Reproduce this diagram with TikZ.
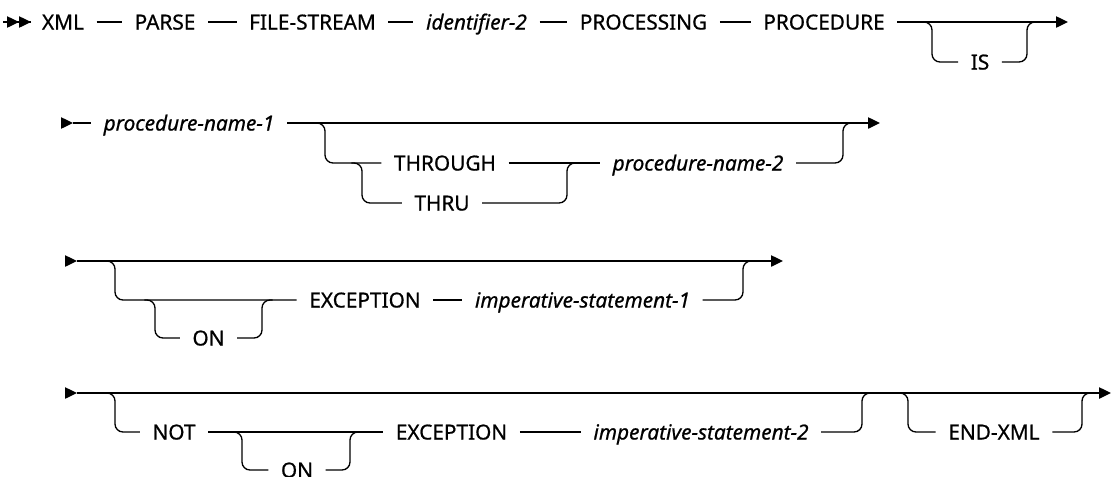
\documentclass[tikz,border=0pt]{standalone}
\usepackage{fontspec}
\setmainfont{Noto Sans}
\newfontfamily\railfont{Noto Sans}[FakeBold=0.7]
\usetikzlibrary{arrows.meta}
\begin{document}
\begin{tikzpicture}[x=0.75pt,y=-0.75pt,line width=1pt,
  kw/.style={inner xsep=9pt,inner ysep=0pt,text height=11.3pt,text depth=0pt,font=\railfont\fontsize{15.6pt}{19pt}\selectfont},
  var/.style={kw,font=\railfont\fontsize{15.6pt}{19pt}\selectfont\itshape},
  rl/.style={rounded corners=6pt},
  endtip/.style={-{Triangle[length=9pt,width=8.5pt]}},
  dbltip/.style={-{Triangle[length=9pt,width=8.5pt]Triangle[length=9pt,width=8.5pt]}}
]
\useasboundingbox (0,0) rectangle (1112,476);

% ---------- Row 1
\coordinate (s1) at (3,22);
\coordinate (s1b) at (31,22);
\node[kw] (xml) at (63,22) {XML};
\node[kw] (parse) at (165,22) {PARSE};
\node[kw] (fs) at (312.5,22) {FILE-STREAM};
\node[var] (id2) at (476.5,22) {identifier-2};
\node[kw] (proc) at (643.5,22) {PROCESSING};
\node[kw] (procd) at (824,22) {PROCEDURE};
\node[kw] (is) at (980,62) {IS};
\coordinate (e1) at (1068,22);
\coordinate (b1l) at (932,22);
\coordinate (b1r) at (1027,22);
\draw[dbltip] (s1) -- (s1b);
\draw (s1b) -- (xml);
\draw (xml) -- (parse);
\draw (parse) -- (fs);
\draw (fs) -- (id2);
\draw (id2) -- (proc);
\draw (proc) -- (procd);
\draw[endtip] (procd) -- (e1);
\draw[rl] ([xshift=-8pt]b1l) -- (b1l) |- (is.west);
\draw[rl] (is.east) -| (b1r) -- ([xshift=8pt]b1r);

% ---------- Row 2
\coordinate (s2) at (61,123);
\coordinate (s2b) at (73,123);
\node[var] (pn1) at (189,123) {procedure-name-1};
\coordinate (e2) at (880,123);
\coordinate (b2l) at (325,123);
\coordinate (b2r) at (843,123);
\coordinate (j2) at (362,163);
\coordinate (j3) at (567,163);
\node[kw] (thr) at (445,163) {THROUGH};
\node[kw] (thru) at (442,203) {THRU};
\node[var] (pn2) at (698,163) {procedure-name-2};
\draw[endtip] (s2) -- (s2b);
\draw (s2b) -- (pn1);
\draw[endtip] (pn1) -- (e2);
\draw[rl] ([xshift=-8pt]b2l) -- (b2l) |- (thr.west);
\draw[rl] ([xshift=-8pt]j2) -- (j2) |- (thru.west);
\draw[rl] (thru.east) -| (j3) -- ([xshift=8pt]j3);
\draw (thr) -- (pn2);
\draw[rl] (pn2.east) -| (b2r) -- ([xshift=8pt]b2r);

% ---------- Row 3
\coordinate (s3) at (65,261);
\coordinate (s3b) at (77,261);
\coordinate (e3) at (783,261);
\coordinate (b3l) at (115,261);
\coordinate (b3r) at (743,261);
\coordinate (o3l) at (155,300);
\coordinate (o3r) at (262,300);
\node[kw] (on1) at (208.5,338) {ON};
\node[kw] (exc1) at (365,300) {EXCEPTION};
\node[var] (is1) at (582.5,300) {imperative-statement-1};
\draw[endtip] (s3) -- (s3b);
\draw[endtip] (s3b) -- (e3);
\draw[rl] ([xshift=-8pt]b3l) -- (b3l) |- (exc1.west);
\draw[rl] ([xshift=-8pt]o3l) -- (o3l) |- (on1.west);
\draw[rl] (on1.east) -| (o3r) -- ([xshift=8pt]o3r);
\draw (exc1) -- (is1);
\draw[rl] (is1.east) -| (b3r) -- ([xshift=8pt]b3r);

% ---------- Row 4
\coordinate (s4) at (65,393);
\coordinate (s4b) at (77,393);
\coordinate (e4) at (1111,393);
\coordinate (b4l) at (115,393);
\coordinate (b4r) at (862,393);
\coordinate (o4l) at (242,432);
\coordinate (o4r) at (350,432);
\coordinate (el) at (908,393);
\coordinate (er) at (1082,393);
\node[kw] (not) at (174,432) {NOT};
\node[kw] (on2) at (297,470) {ON};
\node[kw] (exc2) at (451.5,432) {EXCEPTION};
\node[var] (is2) at (701,432) {imperative-statement-2};
\node[kw] (endx) at (994,432) {END-XML};
\draw[endtip] (s4) -- (s4b);
\draw[endtip] (s4b) -- (e4);
\draw[rl] ([xshift=-8pt]b4l) -- (b4l) |- (not.west);
\draw (not) -- (exc2);
\draw[rl] ([xshift=-8pt]o4l) -- (o4l) |- (on2.west);
\draw[rl] (on2.east) -| (o4r) -- ([xshift=8pt]o4r);
\draw (exc2) -- (is2);
\draw[rl] (is2.east) -| (b4r) -- ([xshift=8pt]b4r);
\draw[rl] ([xshift=-8pt]el) -- (el) |- (endx.west);
\draw[rl] (endx.east) -| (er) -- ([xshift=8pt]er);
\end{tikzpicture}
\end{document}
